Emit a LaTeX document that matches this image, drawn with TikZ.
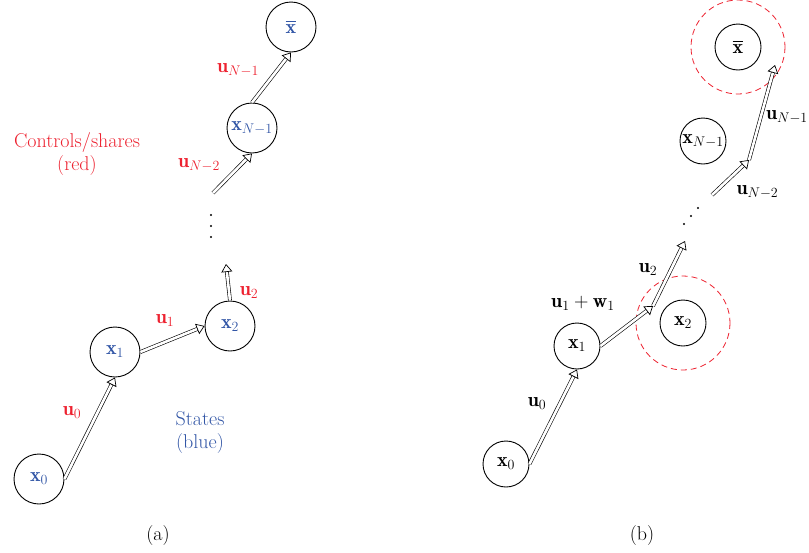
\RequirePackage{fix-cm}
\documentclass[tikz,border=0pt]{standalone}
\usepackage{amsmath}
\usepackage{fontspec}
\usetikzlibrary{arrows.meta}
\definecolor{cred}{RGB}{237,34,48}
\definecolor{cblue}{RGB}{50,86,166}
\begin{document}
\begin{tikzpicture}[x=1pt,y=-1pt,
  every node/.style={font=\fontsize{20}{23}\selectfont},
  sta/.style={circle, draw, line width=0.9pt, minimum size=50pt, inner sep=0pt, text=cblue},
  stb/.style={circle, draw, line width=0.9pt, minimum size=46pt, inner sep=0pt},
  arr/.style={line width=0.6pt, double distance=2.6pt, -{Triangle[open,length=8pt,width=11pt,line width=0.7pt]}},
  zone/.style={draw=cred, dashed, dash pattern=on 6pt off 4pt, line width=0.8pt},
  rl/.style={text=cred},
  bl/.style={text=cblue}
]
\useasboundingbox (0,0) rectangle (809,552);

% ---------- panel (a)
\node[sta] (a0) at (39,479) {$\mathbf{x}_0$};
\node[sta] (a1) at (115,352) {$\mathbf{x}_1$};
\node[sta] (a2) at (230,326) {$\mathbf{x}_2$};
\node[sta] (aN1) at (252,128) {$\mathbf{x}_{N-1}$};
\node[sta] (ab) at (291,27) {$\overline{\mathbf{x}}$};
\coordinate (a2t) at (226,264);
\coordinate (aNs) at (213,193);

\draw[arr] (a0.east) -- (a1.south);
\draw[arr] (a1.east) -- (a2.west);
\draw[arr] (a2.north) -- (a2t);
\draw[arr] (aNs) -- (aN1.south);
\draw[arr] (aN1.north) -- (ab.south);

\node[rl] (lu0) at (72,412) {$\mathbf{u}_0$};
\node[rl] (lu1) at (165,320) {$\mathbf{u}_1$};
\node[rl] (lu2) at (249,292) {$\mathbf{u}_2$};
\node[rl] (luN2) at (199,165) {$\mathbf{u}_{N-2}$};
\node[rl] (luN1) at (238,70) {$\mathbf{u}_{N-1}$};

\fill (211,215) circle[radius=1.2];
\fill (211,226) circle[radius=1.2];
\fill (211,237) circle[radius=1.2];

\node[rl, align=center] (ctrl) at (77,154) {Controls/shares\\(red)};
\node[bl, align=center] (states) at (200,433) {States\\(blue)};
\node (capa) at (158,536) {(a)};

% ---------- panel (b)
\node[stb] (b0) at (506,464) {$\mathbf{x}_0$};
\node[stb] (b1) at (577,346) {$\mathbf{x}_1$};
\node[stb] (b2) at (683,323) {$\mathbf{x}_2$};
\node[stb] (bN1) at (703,141) {$\mathbf{x}_{N-1}$};
\node[stb] (bb) at (738,47) {$\overline{\mathbf{x}}$};
\draw[zone] (b2) circle[radius=47];
\draw[zone] (bb) circle[radius=47];

\coordinate (bj1) at (653,306);
\coordinate (bj2) at (685,241);
\coordinate (bj3) at (712,195);
\coordinate (bj4) at (749,160);
\coordinate (bj5) at (775,65);

\draw[arr] (b0.east) -- (b1.south);
\draw[arr] (b1.east) -- (bj1);
\draw[arr] (bj1) -- (bj2);
\draw[arr] (bj3) -- (bj4);
\draw[arr] (bj4) -- (bj5);

\node (lb0) at (537,403) {$\mathbf{u}_0$};
\node (lb1) at (583,303) {$\mathbf{u}_1+\mathbf{w}_1$};
\node (lb2) at (648,269) {$\mathbf{u}_2$};
\node[anchor=west] (lbN2) at (733,192) {$\mathbf{u}_{N-2}$};
\node[anchor=east, inner sep=1pt] (lbN1) at (809,117) {$\mathbf{u}_{N-1}$};

\fill (684,224) circle[radius=1.2];
\fill (691,216) circle[radius=1.2];
\fill (698,208) circle[radius=1.2];

\node (capb) at (642,536) {(b)};
\end{tikzpicture}
\end{document}
